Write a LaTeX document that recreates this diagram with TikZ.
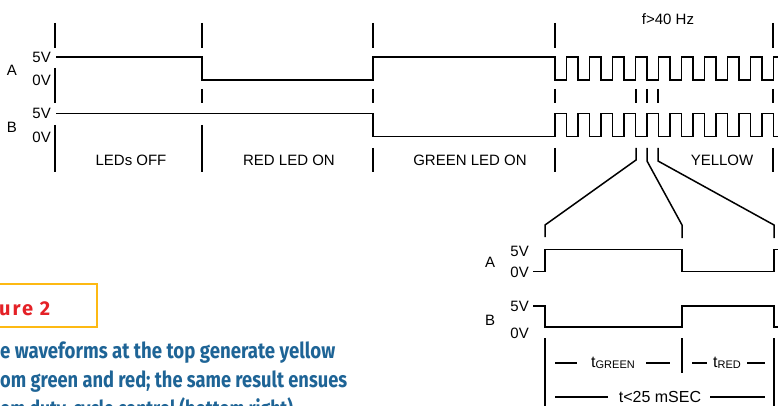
\documentclass[tikz,border=0pt]{standalone}
\usepackage{fontspec}
\usepackage{graphicx}
\setmainfont{Liberation Sans}
\newfontfamily\capfont{Fira Sans}
\definecolor{capblue}{HTML}{1E6496}
\definecolor{capred}{HTML}{E42127}
\definecolor{capyellow}{HTML}{FDB913}
\begin{document}
\begin{tikzpicture}[x=1pt,y=-1pt,
  wave/.style={line width=1.8pt, line join=miter},
  tick/.style={line width=1.8pt},
  zoomline/.style={line width=1.5pt, line join=miter},
  dim/.style={line width=1.3pt},
  lbl/.style={font=\fontsize{15}{15}\selectfont, inner sep=0pt},
  captext/.style={anchor=base west, inner sep=0pt, text=capblue, font=\capfont\bfseries\fontsize{22}{22}\selectfont},
  ]
\useasboundingbox (0,0) rectangle (778,406);
\clip (0,0) rectangle (778,406);

% ---------- top timing diagram ----------
\node[lbl] (lA) at (12,70) {A};
\node[lbl] (lB) at (12,127) {B};
\node[lbl, anchor=east] (lA5) at (51,57) {5V};
\node[lbl, anchor=east] (lA0) at (51,80) {0V};
\node[lbl, anchor=east] (lB5) at (51,113) {5V};
\node[lbl, anchor=east] (lB0) at (51,137) {0V};

\draw[wave] (56,57) -- (202,57) -- (202,80) -- (373,80) -- (373,57) -- (555,57)
  \foreach \m in {0,...,8} { -- ++(0,23) -- ++(11.5,0) -- ++(0,-23) -- ++(11.5,0) }
  -- ++(0,23) -- ++(11.5,0) -- ++(0,-23) -- (782,57);
\draw[wave] (56,113.5) -- (373,113.5) -- (373,136.5) -- (555,136.5)
  \foreach \m in {0,...,8} { -- ++(0,-23) -- ++(11.5,0) -- ++(0,23) -- ++(11.5,0) }
  -- ++(0,-23) -- ++(11.5,0) -- ++(0,23) -- (782,136.5);

\foreach \x in {55,202,373,555,773} \draw[tick] (\x,23) -- (\x,48);
\draw[tick] (55,68) -- (55,103);
\foreach \x in {202,373,555,773,636,647,658} \draw[tick] (\x,89) -- (\x,103);
\foreach \x in {55,202} \draw[tick] (\x,125) -- (\x,172);
\foreach \x in {373,555,773} \draw[tick] (\x,148) -- (\x,172);

\node[lbl, anchor=base] (off) at (131,166) {LEDs OFF};
\node[lbl, anchor=base] (red) at (289,166) {RED LED ON};
\node[lbl, anchor=base] (grn) at (470,166) {GREEN LED ON};
\node[lbl, anchor=base] (yel) at (722,166) {YELLOW};
\node[lbl, anchor=base] (freq) at (668,25) {f>40 Hz};

% ---------- zoom connectors ----------
\coordinate (z1a) at (636,148); \coordinate (z1b) at (636,160);
\coordinate (z1c) at (545,225); \coordinate (z1d) at (545,237);
\coordinate (z2a) at (647,148); \coordinate (z2b) at (647,161);
\coordinate (z2c) at (682,225); \coordinate (z2d) at (682,238);
\coordinate (z3a) at (658,148); \coordinate (z3b) at (658,161);
\coordinate (z3c) at (774,225); \coordinate (z3d) at (774,238);
\draw[zoomline] (z1a) -- (z1b) -- (z1c) -- (z1d);
\draw[zoomline] (z2a) -- (z2b) -- (z2c) -- (z2d);
\draw[zoomline] (z3a) -- (z3b) -- (z3c) -- (z3d);

% ---------- bottom (zoomed) diagram ----------
\node[lbl] (mA) at (490,262) {A};
\node[lbl] (mB) at (490,320) {B};
\node[lbl, anchor=east] (mA5) at (529,251) {5V};
\node[lbl, anchor=east] (mA0) at (529,272) {0V};
\node[lbl, anchor=east] (mB5) at (529,306) {5V};
\node[lbl, anchor=east] (mB0) at (529,333) {0V};

\draw[wave] (533,271.5) -- (545,271.5) -- (545,249.5) -- (682,249.5) -- (682,271.5) -- (774,271.5) -- (774,249.5) -- (782,249.5);
\draw[wave] (533,306) -- (545,306) -- (545,327) -- (682,327) -- (682,306) -- (774,306) -- (774,327) -- (782,327);

\draw[tick] (545,338) -- (545,410);
\draw[tick] (682,338) -- (682,373);
\draw[tick] (774,338) -- (774,410);

\node[lbl, anchor=base, font=\fontsize{16}{16}\selectfont] (tg) at (613,367) {t\raisebox{-1.5pt}{\fontsize{11}{11}\selectfont GREEN}};
\node[lbl, anchor=base, font=\fontsize{16}{16}\selectfont] (tr) at (727,367) {t\raisebox{-1.5pt}{\fontsize{11}{11}\selectfont RED}};
\node[lbl, anchor=base, font=\fontsize{16}{16}\selectfont] (tt) at (660,402) {t<25 mSEC};
\draw[dim] (555,363) -- (577,363);
\draw[dim] (646,363) -- (670,363);
\draw[dim] (692,363) -- (707,363);
\draw[dim] (747,363) -- (765,363);
\draw[dim] (555,397) -- (608,397);
\draw[dim] (710,397) -- (765,397);

% ---------- caption ----------
\draw[capyellow, line width=2.5pt] (-5,284) rectangle (97,327);
\node[anchor=base west, inner sep=0pt, text=capred, font=\capfont\bfseries\fontsize{20}{20}\selectfont] (figlbl) at (-1,315) {\addfontfeature{LetterSpace=10}ure 2};
\node[captext] (cap1) at (0,358) {\resizebox{335pt}{\height}{e waveforms at the top generate yellow}};
\node[captext] (cap2) at (0,387) {\resizebox{347pt}{\height}{om green and red; the same result ensues}};
\node[captext] (cap3) at (0,416) {\resizebox{297pt}{\height}{om duty-cycle control (bottom right).}};
\end{tikzpicture}
\end{document}
